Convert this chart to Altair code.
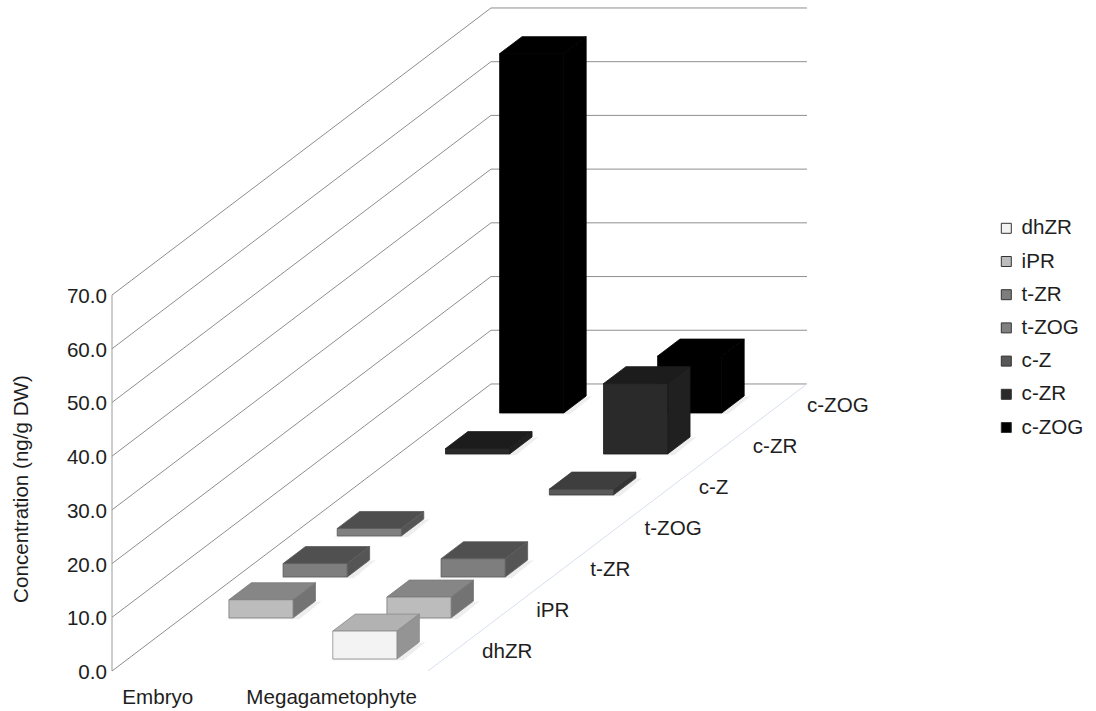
import altair as alt
import pandas as pd

# Concentrations per tissue and cytokinin, front row first
tissues = ["Embryo", "Megagametophyte"]
compounds = ["dhZR", "iPR", "t-ZR", "t-ZOG", "c-Z", "c-ZR", "c-ZOG"]
embryo = [0, 3.4, 2.5, 1.4, 0, 1.0, 66.9]
megagametophyte = [5.2, 3.9, 3.4, 0, 1.1, 13.1, 10.6]
value_ticks = [0, 10, 20, 30, 40, 50, 60, 70]

# Shades of each box: front, top, side, outline
front_shades = ["#f3f3f3", "#bcbcbc", "#7e7e7e", "#808080", "#585858", "#2a2a2a", "#000000"]
top_shades = ["#b2b2b2", "#868686", "#505050", "#4e4e4e", "#3e3e3e", "#1c1c1c", "#000000"]
side_shades = ["#949494", "#737373", "#555555", "#555555", "#343434", "#202020", "#000000"]
edge_shades = ["#8a8a8a", "#7a7a7a", "#5a5a5a", "#5a5a5a", "#3c3c3c", "#1c1c1c", "#000000"]

FONT = "Liberation Sans"
TEXT = "#1e1e1e"
SIZE = 20.6

# Oblique projection: one depth step moves right (in category units) and up (in value units)
DEPTH_X = 54.14 / 158
DEPTH_Y = 41 / 5.371
BAR_LO, BAR_HI = 0.297, 0.703
BAR_FRONT, BAR_BACK = 0.293, 0.707

x_scale = alt.Scale(domain=[0, 2], range=[112, 428], nice=False, zero=False)
y_scale = alt.Scale(domain=[0, 70], range=[671, 295], nice=False, zero=False)


def px(cat, depth):
    return cat + depth * DEPTH_X


def py(value, depth):
    return value + depth * DEPTH_Y


def X(field="x"):
    return alt.X(field, type="quantitative", scale=x_scale, axis=None)


def Y(field="y"):
    return alt.Y(field, type="quantitative", scale=y_scale, axis=None)


def X2(field="x2"):
    return alt.X2(field)


def Y2(field="y2"):
    return alt.Y2(field)


layers = []

# Side wall and back wall gridlines
n = len(compounds)
grid_rows = []
for v in value_ticks:
    grid_rows += [
        {"v": v, "i": 0, "x": px(0, 0), "y": py(v, 0)},
        {"v": v, "i": 1, "x": px(0, n), "y": py(v, n)},
        {"v": v, "i": 2, "x": px(2, n), "y": py(v, n)},
    ]
layers.append(
    alt.Chart(pd.DataFrame(grid_rows))
    .mark_line(color="#8e8e8e", strokeWidth=1)
    .encode(x=X(), y=Y(), detail="v:N", order="i:Q")
)
layers.append(
    alt.Chart(pd.DataFrame({"x": [0, 0], "y": [value_ticks[0], value_ticks[-1]]}))
    .mark_line(color="#9a9a9a", strokeWidth=1)
    .encode(x=X(), y=Y())
)
# Right edge of the floor
layers.append(
    alt.Chart(pd.DataFrame({"x": [px(2, 0), px(2, n)], "y": [py(0, 0), py(0, n)], "i": [0, 1]}))
    .mark_line(color="#d8dfec", strokeWidth=1)
    .encode(x=X(), y=Y(), order="i:Q")
)

colour = alt.Color(
    "compound:N",
    scale=alt.Scale(domain=compounds, range=front_shades),
    legend=alt.Legend(
        title=None,
        orient="none",
        legendX=996,
        legendY=218,
        symbolType="square",
        symbolSize=100,
        symbolStrokeColor="#333333",
        symbolStrokeWidth=1,
        labelFont=FONT,
        labelFontSize=SIZE,
        labelColor=TEXT,
        labelOffset=5,
        rowPadding=12.2,
        labelLimit=200,
    ),
)

# Boxes drawn back to front so nearer ones cover farther ones
for d in reversed(range(n)):
    for c, series in enumerate([embryo, megagametophyte]):
        v = series[d]
        if v <= 0:
            continue
        f, b = d + BAR_FRONT, d + BAR_BACK
        lo, hi = c + BAR_LO, c + BAR_HI

        # Soft footprint on the floor
        shadow = pd.DataFrame(
            {
                "y": [py(0, f) - 0.25, py(0, b)],
                "x": [px(lo - 0.03, f), px(hi + 0.04, b)],
                "x2": [px(hi + 0.04, f), px(hi + 0.04, b)],
            }
        )
        layers.append(
            alt.Chart(shadow)
            .mark_area(orient="horizontal", color="#eeeeee")
            .encode(y=Y(), x=X(), x2=X2())
        )

        top = pd.DataFrame(
            {
                "y": [py(v, f), py(v, b)],
                "x": [px(lo, f), px(lo, b)],
                "x2": [px(hi, f), px(hi, b)],
            }
        )
        layers.append(
            alt.Chart(top)
            .mark_area(orient="horizontal", color=top_shades[d], stroke=edge_shades[d], strokeWidth=0.8, opacity=1)
            .encode(y=Y(), x=X(), x2=X2())
        )

        side = pd.DataFrame(
            {
                "x": [px(hi, f), px(hi, b)],
                "y": [py(v, f), py(v, b)],
                "y2": [py(0, f), py(0, b)],
            }
        )
        layers.append(
            alt.Chart(side)
            .mark_area(color=side_shades[d], stroke=edge_shades[d], strokeWidth=0.8, opacity=1)
            .encode(x=X(), y=Y(), y2=Y2())
        )

        front = pd.DataFrame(
            [
                {
                    "compound": compounds[d],
                    "x": px(lo, f),
                    "x2": px(hi, f),
                    "y": py(v, f),
                    "y2": py(0, f),
                }
            ]
        )
        layers.append(
            alt.Chart(front)
            .mark_rect(stroke=edge_shades[d], strokeWidth=0.8, opacity=1)
            .encode(x=X(), x2=X2(), y=Y(), y2=Y2(), color=colour)
        )

# Value axis labels
layers.append(
    alt.Chart(pd.DataFrame({"x": [0] * len(value_ticks), "y": value_ticks, "t": [f"{v:.1f}" for v in value_ticks]}))
    .mark_text(align="right", baseline="middle", dx=-5, dy=2, font=FONT, fontSize=SIZE, color=TEXT)
    .encode(x=X(), y=Y(), text="t:N")
)
# Depth axis labels along the right edge of the floor
layers.append(
    alt.Chart(
        pd.DataFrame(
            {
                "x": [px(2, i + 0.5) for i in range(n)],
                "y": [py(0, i + 0.5) for i in range(n)],
                "t": compounds,
            }
        )
    )
    .mark_text(align="left", baseline="middle", dx=27, dy=2, font=FONT, fontSize=SIZE, color=TEXT)
    .encode(x=X(), y=Y(), text="t:N")
)
# Tissue labels under the floor
layers.append(
    alt.Chart(pd.DataFrame({"x": [0.29, 1.39], "t": tissues}))
    .mark_text(align="center", baseline="middle", font=FONT, fontSize=SIZE, color=TEXT)
    .encode(x=X(), y=alt.value(698), text="t:N")
)
# Value axis title
layers.append(
    alt.Chart(pd.DataFrame({"t": ["Concentration (ng/g DW)"]}))
    .mark_text(angle=270, align="center", baseline="middle", font=FONT, fontSize=SIZE, color=TEXT)
    .encode(x=alt.value(22), y=alt.value(489), text="t:N")
)

chart = (
    alt.layer(*layers)
    .properties(width=1096, height=711, padding=0, autosize=alt.AutoSizeParams(type="none"), background="white")
    .configure_view(stroke=None)
)
chart.save("out.html", embed_options={"renderer": "svg", "actions": False})
